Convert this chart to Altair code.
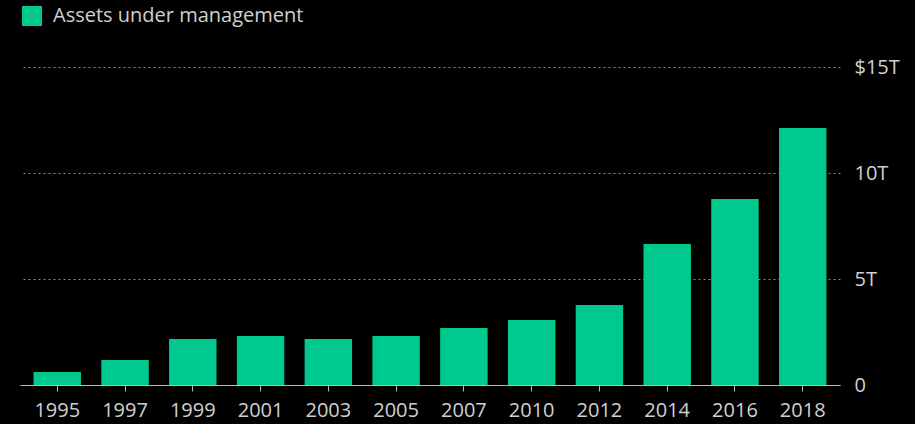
import altair as alt
import pandas as pd

years = ["1995", "1997", "1999", "2001", "2003", "2005", "2007", "2010", "2012", "2014", "2016", "2018"]
assets = [0.61, 1.18, 2.17, 2.31, 2.17, 2.31, 2.69, 3.07, 3.77, 6.65, 8.77, 12.12]
series = ["Assets under management"] * len(years)

df = pd.DataFrame({"year": years, "assets": assets, "series": series})

FONT = "Open Sans"
TXT = "#d0d0d0"
FS = 20

chart = alt.Chart(df).mark_bar(color="#00C98F").encode(
    x=alt.X("year:N", sort=years, title=None,
            scale=alt.Scale(paddingInner=0.3, paddingOuter=0.2),
            axis=alt.Axis(labelAngle=0, labelFontSize=FS, labelColor=TXT, labelFont=FONT,
                          domainColor="#bbbbbb", tickColor="#bbbbbb", tickSize=6,
                          labelPadding=9, grid=False)),
    y=alt.Y("assets:Q", title=None,
            scale=alt.Scale(domain=[0, 15], nice=False),
            axis=alt.Axis(orient="right", values=[0, 5, 10, 15], domain=False, ticks=False,
                          labelFontSize=FS, labelColor=TXT, labelFont=FONT, labelPadding=14,
                          labelExpr="datum.value == 15 ? '$15T' : (datum.value == 0 ? '0' : datum.value + 'T')",
                          grid=True, gridColor="#8a8a8a", gridDash=[2, 3], gridWidth=1)),
    fill=alt.Fill("series:N", scale=alt.Scale(range=["#00C98F"]),
                  legend=alt.Legend(title=None, orient="none", legendX=2, legendY=-61,
                                    symbolType="square", symbolSize=400, symbolStrokeWidth=0,
                                    labelFontSize=FS, labelColor=TXT, labelFont=FONT,
                                    labelLimit=0, symbolOpacity=1, labelOffset=11)),
).properties(
    width=820, height=318,
    background="#000000",
    padding={"left": 20, "top": 67, "right": 75, "bottom": 39},
    autosize=alt.AutoSizeParams(type="none"),
).configure_view(stroke=None)

chart.save("out.html", embed_options={"renderer": "svg", "actions": False})
